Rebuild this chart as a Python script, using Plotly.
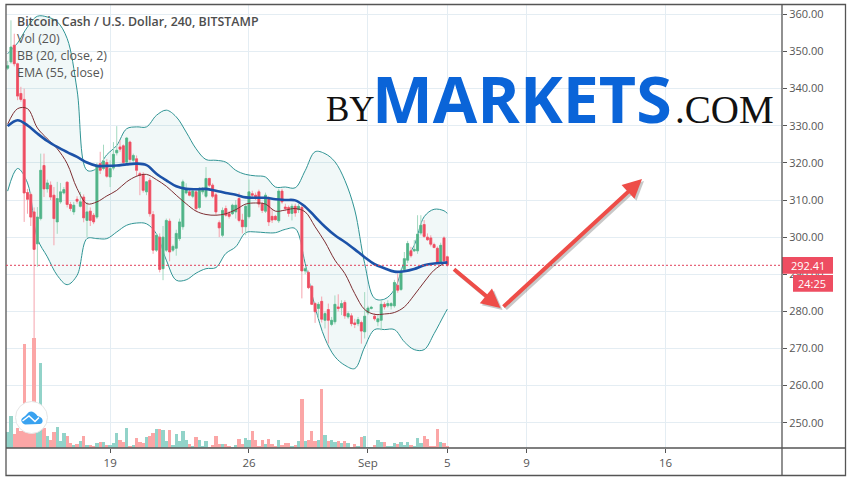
import pandas as pd
import plotly.graph_objects as go

TITLE = "Bitcoin Cash / U.S. Dollar, 240, BITSTAMP"
STUDIES = ["Vol (20)", "BB (20, close, 2)", "EMA (55, close)"]
TICK_DATES = ["2019-08-19", "2019-08-26", "2019-09-01", "2019-09-05", "2019-09-09", "2019-09-16"]
TICK_TEXT = ["19", "26", "Sep", "5", "9", "16"]
PRICE_TICKS = [250, 260, 270, 280, 290, 300, 310, 320, 330, 340, 350, 360]
LAST_PRICE = 292.41
COUNTDOWN = "24:25"

OPEN = [345.5,347.2,351.7,346.7,338.7,337.1,312,311.5,306.8,298.2,305,319.3,313,314,311.3,304.1,309.5,311.9,314.8,308.8,
306.8,310.2,308.3,310.8,304.5,307,305.9,305.4,319.8,318.5,320.1,316.2,318.6,322.7,324.3,324.6,320.2,325.6,320.7,321.1,
317.1,316.9,312.2,315.3,306.1,296.5,300,291.5,296.5,304.3,296.5,297,299.6,302.8,311.9,312.2,311,312.2,308,312.2,
311,315.8,314,311.4,303.9,300.5,307.7,306.3,306.3,306.8,310.4,304.6,302.8,305.5,311.7,311.3,312.2,308.9,307,310.2,
305.6,305.6,304.4,312.4,308.1,308,306.4,308.3,307.4,308,290.9,290.5,286.8,282.1,280.8,282.7,277.6,280.5,276.5,277.2,
281.2,281,282.4,278.5,278.8,276.9,276.7,277,274.5,279.6,280.8,278.7,277.2,277.6,281.9,281.5,281.5,281.5,287,285.9,
291.3,293.8,296.3,296.3,296.3,301.1,303.4,300,299.8,298,297,293.3,299.8,294.7]
HIGH = [347.5,358.4,354.8,347,340.5,340,313,312,308,308.1,322.5,322.5,315.5,315,313.5,314.9,314.6,313.5,315,309.5,
309.5,311,312.2,311.5,309.5,308,306.5,320,323,324.9,321,320.7,325.6,329.9,326.1,325,327,326,322.5,322,
317.6,317.5,315,316,307,301,301,303,305,305,298,302,305,315.5,314.5,313,312.8,313,313.5,313.5,
318.9,316,314.5,312,304.5,308,308.5,307,309,310,312,306.3,309,315.5,312.5,312,312.8,309.5,312,311,
307.7,306,313,313,309,308.5,309,309,309,309,292,291,287,282.5,282.5,284,280,282.1,278.5,284.3,
284.6,283,283,280,279.5,278,278.5,277.5,285.2,281.5,281.5,279.5,279,283,282.5,283,282.5,288.5,290.2,291.5,
296,299,297.4,299.2,305.9,305.9,304.6,301,300.5,298.5,297.5,298.5,300.2,295]
LOW = [345,346.7,346,336.9,336.5,304.1,306.3,303,272.8,292,304.5,310.8,312,310,297.8,300.9,309,311.5,308,307,
306,309,308,304,300,303,303.5,304.9,317,318,316,313.5,318,322,323,319.5,320,320,320,316.2,
311.3,312,311.3,305.5,295.5,296,290.5,288.4,296,293.5,296,295,299,302,311.5,311,310.5,307,307.5,311.5,
310.5,313.5,310.5,306,300,300,305.5,305,306,305,304,301,300.5,305,310.5,310,308,306.5,306.5,303,
303.8,304.5,303.8,309,307,305.5,304.5,305.5,306.5,283.5,290,286,281.7,276.9,278,277,275.4,271.3,276,276.5,
280,279,278,278,276,275.5,276,271.3,272.7,279,280.5,277.5,276,274.9,280.5,281,280.5,281,285,285.5,
291,293,294.5,296,295.5,300.5,299.8,299,297.5,297,293,293,293.2,292]
CLOSE = [346.2,351.2,346.7,338,337.1,311.9,310.2,305.4,296.7,305.4,318,313,314.6,310.8,305,310.4,312.2,312.8,308.8,307.7,
308.6,309.7,309.5,305.2,306.8,304.5,304.1,319.3,318,320.5,316.4,318.5,322.3,323.4,323.7,320.1,326.7,320.9,322,318,
316.7,312.6,314.9,306.3,296.5,300.5,291.3,300,304.5,296,297.5,301,304.1,314.9,313,311.3,312.4,307.7,313,313,
315.8,314,311,306.8,302.5,307.2,305.9,305.6,308.6,308.6,304.5,302.8,308.3,312.2,311.3,310.4,308.9,307.2,311.3,304.1,
304.6,304.7,312.4,309.5,307.7,306.4,308.3,306.5,308.3,290.9,291.5,286.4,281.9,279.9,281.9,277.9,279.4,277.6,277.6,281.9,
280.8,282.1,278.8,279.4,276.7,276.5,277.8,274.7,278.7,280.9,281.1,278,278,281.9,281.2,282.1,282.1,287.8,285.7,290.9,
294.2,298.3,295,296.7,300.8,303.2,300.2,299.3,298.1,297.2,293.3,297.8,293.6,292.41]
VOLUME = [47,95,42,60,50,313,50,50,331,50,256,60,35,25,49,64,22,46,35,15,
10,13,22,37,10,10,7,16,19,19,10,10,16,46,25,19,61,7,10,31,
19,16,34,37,46,58,58,55,22,55,10,43,22,52,25,13,7,34,25,7,
22,2,10,37,13,13,13,7,3,10,28,13,31,25,52,25,7,25,13,28,
13,7,25,10,16,16,7,10,22,148,22,25,52,22,25,178,40,22,25,19,
22,16,22,16,3,13,4,34,37,2,2,10,25,19,19,4,4,16,13,19,
10,19,10,7,31,16,37,28,7,7,58,19,16,4]

IND_BARS = [0,3,6,9,12,15,18,21,24,27,30,33,36,39,42,45,48,51,54,57,60,63,66,69,72,75,78,81,84,87,90,93,96,99,102,105,108,111,114,117,120,123,126,129,132,133]
EMA = [329.9,331.5,330.1,327.9,325.9,324.3,322.9,321.6,320.1,319.2,319.2,319.3,319.6,319.8,319.4,317.1,315.3,313.7,313,312.9,313,312.5,311.9,311.4,
310.7,310.6,310.6,310.2,310,309.9,308.2,305.5,302.8,300.5,298.7,296.7,294.6,292.7,291.6,290.7,290.8,291.4,292.4,292.9,293.1,293.2]
BB_BASIS = [330.4,334.6,334.6,329.4,326.5,323.8,319.8,313.1,309,309.5,311.1,312.6,314.9,316.4,316.9,315.5,313.7,311.3,309,307,306.1,305.9,306.3,307.4,
308.9,309.2,308.9,307,307.3,307.7,306.8,302.8,298.7,293.8,290.2,284.8,280.5,279.2,279.3,279.7,281.2,284.4,287.9,291.1,292.9,293.2]
BB_UPPER = [349.4,352.3,356.6,359.5,359.3,358,353.5,339.6,318,318.5,322.2,324.7,329.2,329.7,329.7,332.8,334.2,332.4,328.3,323.8,320.9,320.7,320.2,318,
316.9,316.5,316.2,313.5,313.5,313.3,317.9,323,322.5,320.3,315.3,307.3,292.9,283.5,283.3,285.9,293.3,297.8,305.5,307.5,307.1,306.4]
BB_LOWER = [312.4,318.5,314.6,299.6,294.7,289.7,287.2,289.7,299.6,299.6,299.6,301.4,303.2,303.8,303.6,300.9,293.8,288.4,288.5,290.3,291.5,291.8,295.6,297.4,
301.2,301.4,301.2,301.2,302.1,302.3,292.9,281.2,272.7,267.8,265.5,264.6,270.4,275.1,275.1,275.1,271.8,269.7,269.7,274,279,280.6]

RED, GREEN = "#ee4d61", "#50b488"
RED_WICK, GREEN_WICK = "#f5a3ad", "#a3d9c0"
VOL_RED, VOL_GREEN = "#fba6a6", "#92d3c9"
GRID, FRAME, TEXT = "#e4edf3", "#555555", "#555555"
FONT = "Open Sans"

W, H, L, R, T, B = 852, 482, 6, 782, 4, 448
def px(x): return (x - L) / (R - L)
def py(y): return (B - y) / (B - T)

dates = pd.date_range(end="2019-09-05 00:00", periods=len(CLOSE), freq="4h")
ind_dates = [dates[i] for i in IND_BARS]
vol_colors = [VOL_GREEN if c >= o else VOL_RED for o, c in zip(OPEN, CLOSE)]

fig = go.Figure()
fig.add_trace(go.Scatter(x=ind_dates, y=BB_LOWER, yaxis="y", mode="lines", line=dict(color="#2f9494", width=1, shape="spline"), hoverinfo="skip"))
fig.add_trace(go.Scatter(x=ind_dates, y=BB_UPPER, yaxis="y", mode="lines", line=dict(color="#2f9494", width=1, shape="spline"),
                         fill="tonexty", fillcolor="rgba(47,148,148,0.065)", hoverinfo="skip"))
fig.add_trace(go.Bar(x=dates, y=VOLUME, yaxis="y2", marker=dict(color=vol_colors, line=dict(width=0)), hoverinfo="skip"))
fig.add_trace(go.Candlestick(x=dates, open=OPEN, high=HIGH, low=LOW, close=CLOSE, yaxis="y3", hoverinfo="skip",
    increasing=dict(line=dict(color=GREEN_WICK, width=1), fillcolor=GREEN_WICK),
    decreasing=dict(line=dict(color=RED_WICK, width=1), fillcolor=RED_WICK)))
fig.add_trace(go.Candlestick(x=dates, open=OPEN, close=CLOSE, yaxis="y3", hoverinfo="skip",
    high=[max(o, c) for o, c in zip(OPEN, CLOSE)], low=[min(o, c) for o, c in zip(OPEN, CLOSE)],
    increasing=dict(line=dict(color=GREEN, width=0.6), fillcolor=GREEN),
    decreasing=dict(line=dict(color=RED, width=0.6), fillcolor=RED)))
fig.add_trace(go.Scatter(x=ind_dates, y=BB_BASIS, yaxis="y4", mode="lines", line=dict(color="#7d2f33", width=1, shape="spline"), hoverinfo="skip"))
fig.add_trace(go.Scatter(x=ind_dates, y=EMA, yaxis="y4", mode="lines", line=dict(color="#1c52a8", width=2.6, shape="spline"), hoverinfo="skip"))

price_range = [243.2, 362.8]
hidden = dict(overlaying="y", visible=False, showgrid=False, zeroline=False)
frame = lambda x0, y0, x1, y1, **k: dict(type="rect", xref="paper", yref="paper", x0=px(x0), x1=px(x1), y0=py(y0), y1=py(y1), layer="above", **k)
line_px = lambda x0, y0, x1, y1, c=FRAME, w=1: dict(type="line", xref="paper", yref="paper", x0=px(x0), x1=px(x1), y0=py(y0), y1=py(y1), layer="above", line=dict(color=c, width=w))

def path(points):
    out = []
    for cmd, *xy in points:
        vals = [f"{px(xy[i])},{py(xy[i+1])}" for i in range(0, len(xy), 2)]
        out.append(cmd + " " + " ".join(vals))
    return " ".join(out)

cloud = path([("M", 23, 423.5), ("Q", 19.5, 420, 23, 417.5), ("Q", 25, 416.5, 27, 414), ("Q", 30, 410, 34, 412.5),
              ("Q", 36.5, 414, 37.5, 416), ("Q", 43.5, 417.5, 42.5, 422), ("Q", 41.5, 424.5, 39, 424), ("L", 25, 424.5), ("Z",)])
zig = path([("M", 22.5, 421), ("L", 29, 416), ("L", 35, 421.5), ("L", 39, 417.5)])

shapes = [
    frame(782, 257, 833, 273.7, fillcolor=RED, line=dict(width=0)),
    frame(793, 275, 833, 291.7, fillcolor=RED, line=dict(width=0)),
    frame(6, 4.5, 845.5, 475.5, line=dict(color=FRAME, width=1.3)),
    line_px(782, 4.5, 782, 475.5, w=1.3),
    line_px(6, 448, 845.5, 448, w=1.3),
    dict(type="line", xref="paper", yref="y", x0=0, x1=1, y0=LAST_PRICE, y1=LAST_PRICE, layer="above", line=dict(color="#e0405a", width=1, dash="2px,2px")),
    dict(type="circle", xref="paper", yref="paper", x0=px(15.5), x1=px(47.5), y0=py(401.5), y1=py(433.5), layer="above", fillcolor="white", line=dict(color="#e6e6e6", width=1)),
    dict(type="path", xref="paper", yref="paper", path=cloud, layer="above", fillcolor="#39a2f0", line=dict(width=0)),
    dict(type="path", xref="paper", yref="paper", path=zig, layer="above", line=dict(color="white", width=1.5)),
]

def note(text, x, y, size=12, color=TEXT, anchor="left", family=FONT, weight=None):
    f = dict(family=family, size=size, color=color)
    if weight: f["weight"] = weight
    return dict(text=text, xref="paper", yref="paper", x=px(x), y=py(y), xanchor=anchor, yanchor="middle", showarrow=False, font=f)

def arrow(x0, y0, x1, y1, color, width, off=0):
    return dict(text="", xref="paper", yref="paper", axref="pixel", ayref="pixel", x=px(x1 + off), y=py(y1 + off),
                ax=x0 - x1, ay=y0 - y1, showarrow=True, arrowhead=2, arrowsize=0.95, arrowwidth=width, arrowcolor=color)

annotations = [
    note(TITLE, 15, 21.5, 12.4, "#4d4d4d", weight=600),
    note(STUDIES[0], 15, 38.5, 12.4), note(STUDIES[1], 15, 55.5, 12.4), note(STUDIES[2], 15, 72.5, 12.4),
    note("BY", 324, 109, 35, "#111111", family="Liberation Serif"),
    note("MARKETS", 370, 98, 64.5, "#0a64d8", weight=700),
    note(".COM", 673, 109, 39, "#111111", family="Liberation Serif"),
    note(f"{LAST_PRICE:.2f}", 808, 265.3, 11, "white", "center"),
    note(COUNTDOWN, 812, 283.3, 11, "white", "center"),
    arrow(452.5, 268, 500.5, 308, "rgba(60,60,60,0.28)", 4, 2),
    arrow(502, 308, 642, 179, "rgba(60,60,60,0.28)", 4, 2),
    arrow(452.5, 268, 500.5, 308, "#ee4d48", 4),
    arrow(502, 308, 642, 179, "#ee4d48", 4),
]

fig.update_layout(
    width=W, height=H, margin=dict(l=L, r=W - R, t=T, b=H - B), paper_bgcolor="white", plot_bgcolor="white",
    showlegend=False, bargap=0, boxgap=0.15, shapes=shapes, annotations=annotations, hovermode=False,
    font=dict(family=FONT, size=11, color=TEXT),
    xaxis=dict(type="date", range=["2019-08-13 18:00", "2019-09-21 21:00"], tickmode="array", tickvals=TICK_DATES, ticktext=TICK_TEXT,
               showgrid=True, gridcolor=GRID, gridwidth=1, ticks="outside", ticklen=4, tickcolor=FRAME, tickfont=dict(size=11.5, color=TEXT),
               rangeslider=dict(visible=False), zeroline=False, showline=False),
    yaxis=dict(side="right", range=price_range, tickmode="array", tickvals=PRICE_TICKS, tickformat=".2f",
               showgrid=True, gridcolor=GRID, gridwidth=1, ticks="outside", ticklen=4, tickcolor=FRAME, tickfont=dict(size=11, color=TEXT), zeroline=False),
    yaxis2=dict(range=[0, 1332], side="right", **hidden),
    yaxis3=dict(range=price_range, side="right", **hidden),
    yaxis4=dict(range=price_range, side="right", **hidden),
)

fig.write_html("out.html", config=dict(displayModeBar=False),
               post_script="document.body.style.margin='0';document.body.style.overflow='hidden';")
